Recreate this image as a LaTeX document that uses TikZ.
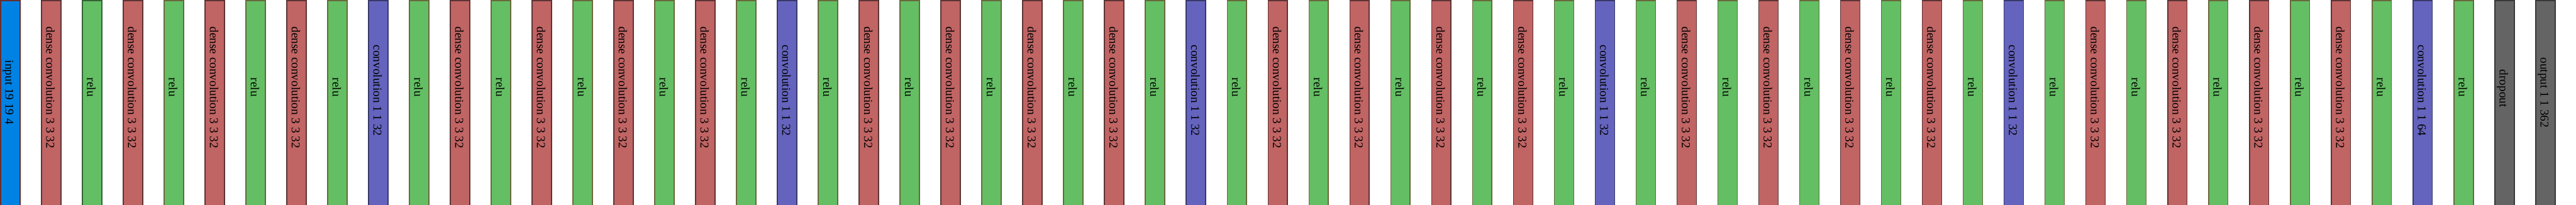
\documentclass[tikz,border=0pt]{standalone}
\usepackage{fontspec}
\setmainfont{Liberation Serif}
\usetikzlibrary{positioning}

\definecolor{inpfill}{RGB}{0,130,228}
\definecolor{inpedge}{RGB}{105,45,45}
\definecolor{densefill}{RGB}{192,100,100}
\definecolor{denseedge}{RGB}{92,52,52}
\definecolor{relufill}{RGB}{100,190,100}
\definecolor{reluedge}{RGB}{106,104,60}
\definecolor{relufirstedge}{RGB}{52,98,52}
\definecolor{convfill}{RGB}{100,100,190}
\definecolor{convedge}{RGB}{56,56,106}
\definecolor{greyfill}{RGB}{100,100,100}
\definecolor{greyedge}{RGB}{56,56,56}

\begin{document}
\begin{tikzpicture}[layer/.style={draw,line width=0.85pt,inner sep=0pt,outer sep=0pt,minimum width=0.57cm,minimum height=6.4cm,anchor=north west},
inp/.style={layer,fill=inpfill,draw=inpedge},dense/.style={layer,fill=densefill,draw=denseedge},
relu/.style={layer,fill=relufill,draw=reluedge},relufirst/.style={relu,draw=relufirstedge},
conv/.style={layer,fill=convfill,draw=convedge},grey/.style={layer,fill=greyfill,draw=greyedge},
lbl/.style={rotate=-90,anchor=base,inner sep=0pt,font=\fontsize{10.1}{12}\selectfont}]
\useasboundingbox (0,0) rectangle (75.6,6);
% one column per layer, label offset measured from the top
\foreach \kind/\txt/\off [count=\i from 0] in {
inp/input 19 19 4/2.71,
dense/dense convolution 3 3 32/2.57, relufirst/relu/2.56, dense/dense convolution 3 3 32/2.57, relu/relu/2.56,
dense/dense convolution 3 3 32/2.57, relu/relu/2.56, dense/dense convolution 3 3 32/2.57, relu/relu/2.56,
conv/convolution 1 1 32/2.66, relu/relu/2.56,
dense/dense convolution 3 3 32/2.57, relu/relu/2.56, dense/dense convolution 3 3 32/2.57, relu/relu/2.56,
dense/dense convolution 3 3 32/2.57, relu/relu/2.56, dense/dense convolution 3 3 32/2.57, relu/relu/2.56,
conv/convolution 1 1 32/2.66, relu/relu/2.56,
dense/dense convolution 3 3 32/2.57, relu/relu/2.56, dense/dense convolution 3 3 32/2.57, relu/relu/2.56,
dense/dense convolution 3 3 32/2.57, relu/relu/2.56, dense/dense convolution 3 3 32/2.57, relu/relu/2.56,
conv/convolution 1 1 32/2.66, relu/relu/2.56,
dense/dense convolution 3 3 32/2.57, relu/relu/2.56, dense/dense convolution 3 3 32/2.57, relu/relu/2.56,
dense/dense convolution 3 3 32/2.57, relu/relu/2.56, dense/dense convolution 3 3 32/2.57, relu/relu/2.56,
conv/convolution 1 1 32/2.66, relu/relu/2.56,
dense/dense convolution 3 3 32/2.57, relu/relu/2.56, dense/dense convolution 3 3 32/2.57, relu/relu/2.56,
dense/dense convolution 3 3 32/2.57, relu/relu/2.56, dense/dense convolution 3 3 32/2.57, relu/relu/2.56,
conv/convolution 1 1 32/2.66, relu/relu/2.56,
dense/dense convolution 3 3 32/2.57, relu/relu/2.56, dense/dense convolution 3 3 32/2.57, relu/relu/2.56,
dense/dense convolution 3 3 32/2.57, relu/relu/2.56, dense/dense convolution 3 3 32/2.57, relu/relu/2.56,
conv/convolution 1 1 64/2.66, relu/relu/2.56,
grey/dropout/2.60, grey/output 1 1 362/2.72}
{
\node[\kind] (L\i) at (1.2*\i+0.015,5.985) {};
\node[lbl] (T\i) at ([xshift=0.145cm,yshift=-\off cm+0.015cm]L\i.north west) {\txt};
}
\end{tikzpicture}
\end{document}
